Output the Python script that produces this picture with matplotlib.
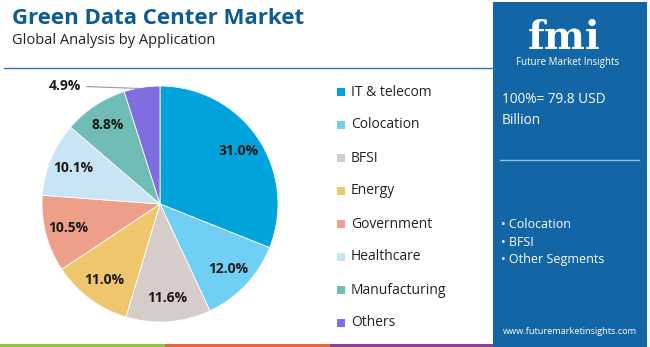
import matplotlib.pyplot as plt
import numpy as np

plt.rcParams['font.family'] = ['Open Sans', 'DejaVu Sans']

categories = ["IT & telecom", "Colocation", "BFSI", "Energy", "Government",
              "Healthcare", "Manufacturing", "Others"]
shares = [31.0, 12.0, 11.6, 11.0, 10.5, 10.1, 8.8, 4.9]
colors = ["#00a3dc", "#6fcff4", "#d6ccca", "#eec66c", "#ee9f89",
          "#c9e4f4", "#6fbdb4", "#7f6edf"]

title = "Green Data Center Market"
subtitle = "Global Analysis by Application"
total_text = "100%= 79.8 USD\nBillion"
key_segments = ["Colocation", "BFSI", "Other Segments"]
site = "www.futuremarketinsights.com"

W, H = 650, 347
panel_blue = "#1266a6"


def fx(px):
    return px / W


def fy(py):
    return 1 - py / H


fig = plt.figure(figsize=(6.5, 3.47), dpi=100)
fig.patch.set_facecolor("white")

# header
fig.text(fx(12), fy(19), title, fontsize=16, fontweight="bold",
         color="#0c5b92", va="center", ha="left")
fig.text(fx(12), fy(40), subtitle, fontsize=10.5, color="#222222",
         va="center", ha="left")
fig.add_artist(plt.Line2D([fx(4), fx(494)], [fy(68), fy(68)],
                          color="#2f78b4", lw=1.0))

# bottom colour stripes
for i, c in enumerate(["#8dc63f", "#e8673a", "#8e3f96"]):
    fig.add_artist(plt.Rectangle((fx(165 * i), 0), fx(165), 3.5 / H,
                                 color=c, lw=0))

# pie
ax = fig.add_axes([fx(42), fy(322), fx(236), 236 / H])
wedges, _, autotexts = ax.pie(shares, colors=colors, startangle=90,
                              counterclock=False, autopct="%1.1f%%",
                              pctdistance=0.8,
                              wedgeprops=dict(edgecolor="white", linewidth=0.6),
                              textprops=dict(fontsize=10, fontweight="bold",
                                             color="#1a1a1a"))
ax.set_xlim(-1, 1)
ax.set_ylim(-1, 1)
ax.set_aspect("equal")

# small slice label placed outside with leader line
autotexts[-1].set_visible(False)
w = wedges[-1]
mid = np.deg2rad((w.theta1 + w.theta2) / 2)
ax.annotate(f"{shares[-1]:.1f}%", xy=(np.cos(mid) * 0.99, np.sin(mid) * 0.99),
            xytext=(-44, 2), textcoords="offset points", ha="right",
            va="center", fontsize=10, fontweight="bold", color="#1a1a1a",
            arrowprops=dict(arrowstyle="-", color="#999999", lw=0.8))

# legend
for i, (name, c) in enumerate(zip(categories, colors)):
    y = 92 + i * 33
    fig.add_artist(plt.Rectangle((fx(337), fy(y + 4)), fx(8), 8 / H,
                                 color=c, lw=0))
    fig.text(fx(351), fy(y), name, fontsize=10, color="#222222",
             va="center", ha="left")

# right panel
fig.add_artist(plt.Rectangle((fx(493), 0), fx(154), fy(2), color=panel_blue,
                             lw=0))
fig.text(fx(564), fy(49), "fmi", fontsize=28, fontweight="bold",
         family="DejaVu Serif", color="white", ha="center", va="baseline")
for yy in np.arange(18, 50, 3.2):
    fig.add_artist(plt.Line2D([fx(510), fx(620)], [fy(yy), fy(yy)],
                              color=panel_blue, lw=0.6))
fig.text(fx(568), fy(62.5), "Future Market Insights", fontsize=7,
         color="white", ha="center", va="center")
fig.text(fx(502), fy(110), total_text, fontsize=9.8, color="white",
         ha="left", va="center", linespacing=1.6)
fig.add_artist(plt.Line2D([fx(500), fx(639)], [fy(160), fy(160)],
                          color="#8cbde6", lw=1.0))
for i, s in enumerate(key_segments):
    fig.text(fx(501), fy(225 + i * 17.5), "\u2022 " + s, fontsize=9,
             color="white", ha="left", va="center")
fig.text(fx(570), fy(332), site, fontsize=6.6, color="white",
         ha="center", va="center")

fig.savefig("out.png", dpi=100)
